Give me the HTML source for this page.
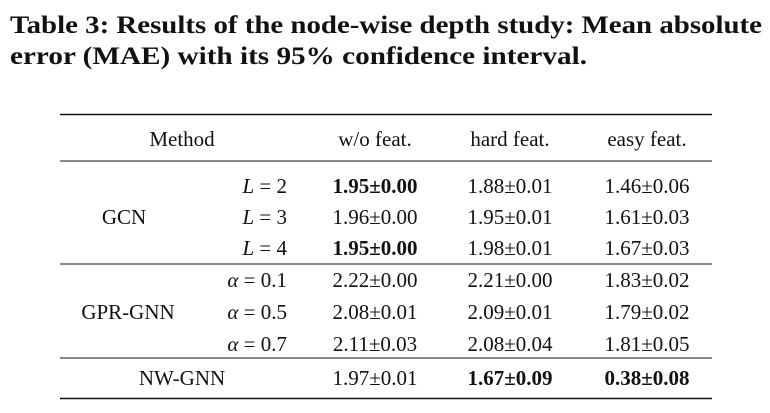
<!DOCTYPE html>
<html><head><meta charset="utf-8"><style>
html,body{margin:0;padding:0;background:#fff;}
svg{display:block;}
text{font-family:"Liberation Serif",serif;fill:#111;}
.b{font-weight:bold;}
</style></head><body>
<svg width="770" height="413" viewBox="0 0 770 413">
<text x="10" y="33" font-size="25" class="b" textLength="752" lengthAdjust="spacingAndGlyphs">Table 3: Results of the node-wise depth study: Mean absolute</text>
<text x="10" y="64" font-size="25" class="b" textLength="577" lengthAdjust="spacingAndGlyphs">error (MAE) with its 95% confidence interval.</text>
<g stroke="#111">
<line x1="60" x2="712" y1="114.5" y2="114.5" stroke-width="1.6"/>
<line x1="60" x2="712" y1="161" y2="161" stroke-width="1"/>
<line x1="60" x2="712" y1="264" y2="264" stroke-width="1"/>
<line x1="60" x2="712" y1="358" y2="358" stroke-width="1"/>
<line x1="60" x2="712" y1="398.5" y2="398.5" stroke-width="1.6"/>
</g>
<g font-size="21" text-anchor="middle">
<text x="182" y="146">Method</text>
<text x="375" y="146">w/o feat.</text>
<text x="510" y="146">hard feat.</text>
<text x="647" y="146">easy feat.</text>
<text x="124" y="224">GCN</text>
<text x="128" y="319">GPR-GNN</text>
<text x="182" y="385">NW-GNN</text>
</g>
<g font-size="21" text-anchor="end" xml:space="preserve">
<text x="287" y="193"><tspan font-style="italic">L</tspan>  =  2</text>
<text x="287" y="224"><tspan font-style="italic">L</tspan>  =  3</text>
<text x="287" y="255"><tspan font-style="italic">L</tspan>  =  4</text>
<text x="287" y="287"><tspan font-style="italic">α</tspan>  =  0.1</text>
<text x="287" y="319"><tspan font-style="italic">α</tspan>  =  0.5</text>
<text x="287" y="351"><tspan font-style="italic">α</tspan>  =  0.7</text>
</g>
<g font-size="21" text-anchor="middle">
<text x="375" y="193" class="b">1.95±0.00</text>
<text x="510" y="193">1.88±0.01</text>
<text x="647" y="193">1.46±0.06</text>
<text x="375" y="224">1.96±0.00</text>
<text x="510" y="224">1.95±0.01</text>
<text x="647" y="224">1.61±0.03</text>
<text x="375" y="255" class="b">1.95±0.00</text>
<text x="510" y="255">1.98±0.01</text>
<text x="647" y="255">1.67±0.03</text>
<text x="375" y="287">2.22±0.00</text>
<text x="510" y="287">2.21±0.00</text>
<text x="647" y="287">1.83±0.02</text>
<text x="375" y="319">2.08±0.01</text>
<text x="510" y="319">2.09±0.01</text>
<text x="647" y="319">1.79±0.02</text>
<text x="375" y="351">2.11±0.03</text>
<text x="510" y="351">2.08±0.04</text>
<text x="647" y="351">1.81±0.05</text>
<text x="375" y="385">1.97±0.01</text>
<text x="510" y="385" class="b">1.67±0.09</text>
<text x="647" y="385" class="b">0.38±0.08</text>
</g>
</svg>
</body></html>
